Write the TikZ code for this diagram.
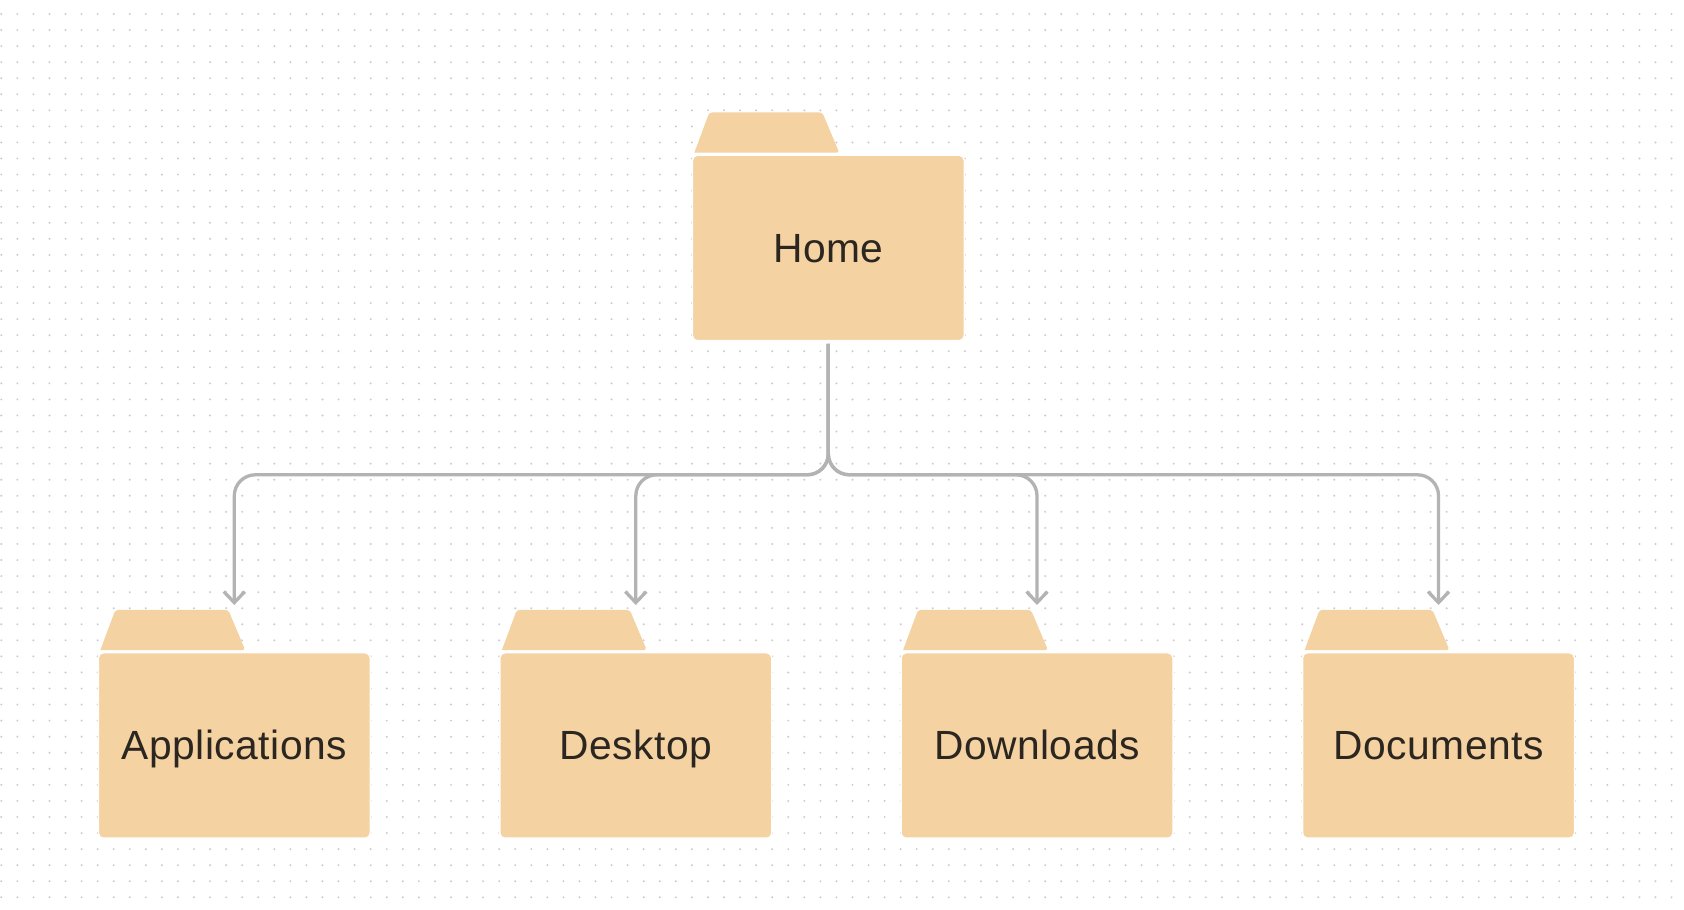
\documentclass[tikz,border=0pt]{standalone}
\usepackage{fontspec}
\setmainfont[LetterSpace=1.2]{Liberation Sans}
\usetikzlibrary{arrows.meta}

\definecolor{folderfill}{HTML}{F5D2A2}
\definecolor{foldertext}{HTML}{2B2620}
\definecolor{linkgray}{HTML}{B3B3B3}
\definecolor{dotgray}{HTML}{CCCCCC}

\tikzset{
  folder/.style={draw=white, line width=0.015cm, fill=folderfill, rounded corners=0.05cm,
    minimum width=2.72cm, minimum height=1.855cm, outer sep=0pt, text=foldertext,
    text height=0.29cm, text depth=0cm,
    font=\fontsize{11.6pt}{14pt}\selectfont},
  link/.style={draw=linkgray, line width=0.033cm, rounded corners=0.21cm,
    -{Straight Barb[length=0.11cm,width=0.21cm]}},
  foldertab/.pic={
    \fill [folderfill] (0.02,0.025) [rounded corners=0.03cm] -- (0.17,0.428) -- (1.30,0.428) -- (1.47,0.025) [sharp corners] -- cycle;
  }
}

\begin{document}
\begin{tikzpicture}

  \useasboundingbox (0,0) rectangle (16.84,9.10);
  \fill [white] (0,0) rectangle (16.84,9.10);

  % dot grid
  \foreach \i in {0,...,104}
    \foreach \j in {0,...,55}
      \fill [dotgray] (0.0130+0.1606*\i, 8.96-0.1606*\j) circle [radius=0.011];

  \node [folder] (Home) at (8.283,6.62) {Home};
  \node [folder] (Applications) at (2.343,1.645) {Applications};
  \node [folder] (Desktop) at (6.358,1.645) {Desktop};
  \node [folder] (Downloads) at (10.37,1.645) {Downloads};
  \node [folder] (Documents) at (14.385,1.645) {Documents};

  \pic at (Home.north west) {foldertab};
  \pic at (Applications.north west) {foldertab};
  \pic at (Desktop.north west) {foldertab};
  \pic at (Downloads.north west) {foldertab};
  \pic at (Documents.north west) {foldertab};

  \coordinate (Bus) at (8.283,4.352);
  \coordinate (HomeOut) at (8.283,5.66);
  \coordinate (ApplicationsIn) at (2.343,3.05);
  \coordinate (DesktopIn) at (6.358,3.05);
  \coordinate (DownloadsIn) at (10.37,3.05);
  \coordinate (DocumentsIn) at (14.385,3.05);

  \draw [link] (HomeOut) -- (HomeOut |- Bus) -- (ApplicationsIn |- Bus) -- (ApplicationsIn);
  \draw [link] (HomeOut) -- (HomeOut |- Bus) -- (DesktopIn |- Bus) -- (DesktopIn);
  \draw [link] (HomeOut) -- (HomeOut |- Bus) -- (DownloadsIn |- Bus) -- (DownloadsIn);
  \draw [link] (HomeOut) -- (HomeOut |- Bus) -- (DocumentsIn |- Bus) -- (DocumentsIn);

\end{tikzpicture}
\end{document}
